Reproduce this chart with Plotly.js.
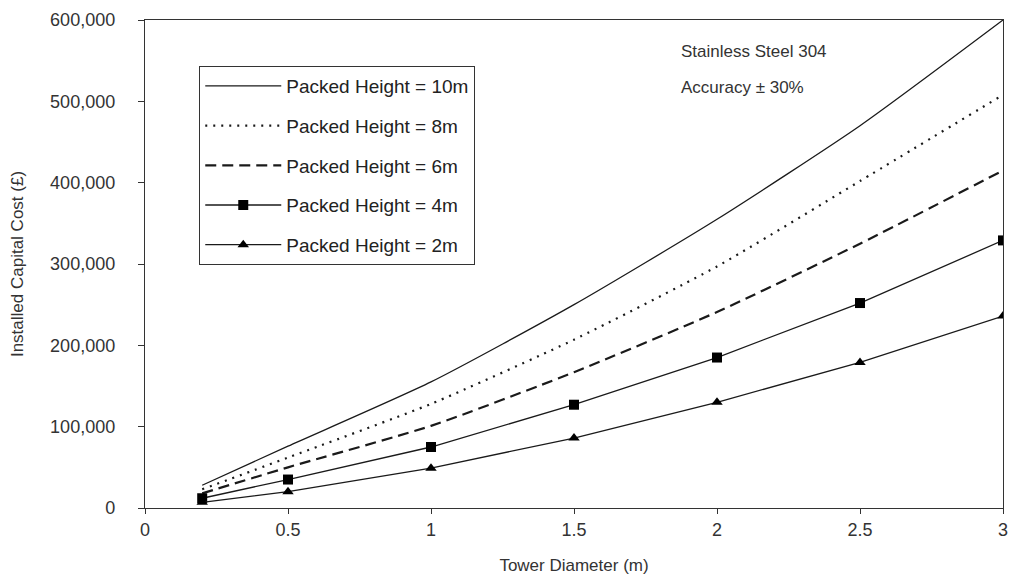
<!DOCTYPE html>
<html>
<head>
<meta charset="utf-8">
<script src="https://cdn.plot.ly/plotly-3.0.1.min.js"></script>
<style>html,body{margin:0;padding:0;background:#fff;}#chart{width:1013px;height:577px;}</style>
</head>
<body>
<div id="chart"></div>
<script>
// Tower diameter (m)
const diameter = [0.2, 0.5, 1, 1.5, 2, 2.5, 3];
// Installed capital cost (£) per packed height
const cost10m = [28000, 76000, 155000, 250000, 355000, 470000, 600000];
const cost8m  = [23000, 62000, 128000, 207000, 297000, 402000, 508000];
const cost6m  = [18000, 50000, 101000, 167000, 241000, 325000, 415000];
const cost4m  = [12000, 35000, 75000, 127000, 185000, 252000, 329000];
const cost2m  = [7000, 20000, 49000, 86000, 130000, 179000, 236000];
const seriesNames = ["Packed Height = 10m", "Packed Height = 8m", "Packed Height = 6m", "Packed Height = 4m", "Packed Height = 2m"];
const xTicks = [0, 0.5, 1, 1.5, 2, 2.5, 3];
const yTicks = [0, 100000, 200000, 300000, 400000, 500000, 600000];

const ink = "#1a1a1a";
const traces = [
  {x: diameter, y: cost10m, name: seriesNames[0], legendgroup: "a", mode: "lines",
   line: {color: ink, width: 1.3, shape: "spline", smoothing: 0.6}},
  {x: diameter, y: cost8m, name: seriesNames[1], legendgroup: "b", mode: "lines",
   line: {color: ink, width: 2.2, dash: "2px,6px", shape: "spline", smoothing: 0.6}},
  {x: diameter, y: cost6m, name: seriesNames[2], legendgroup: "c", mode: "lines",
   line: {color: ink, width: 2.2, dash: "11px,6px", shape: "spline", smoothing: 0.6}},
  {x: diameter, y: cost4m, name: seriesNames[3], legendgroup: "d", mode: "lines+markers",
   line: {color: ink, width: 1.3}, marker: {symbol: "square", size: 10, color: "#000"}},
  {x: diameter, y: cost2m, name: seriesNames[4], legendgroup: "e", mode: "lines+markers",
   line: {color: ink, width: 1.3}, marker: {symbol: "triangle-up", size: 10, color: "#000"}}
];

const fam = "Liberation Sans, Arial, sans-serif";
const layout = {
  width: 1013, height: 577,
  margin: {l: 145, r: 10, t: 20, b: 69},
  paper_bgcolor: "#fff", plot_bgcolor: "#fff",
  font: {family: fam, size: 17, color: "#333"},
  showlegend: true,
  legend: {
    x: 0.063, y: 0.906, xanchor: "left", yanchor: "top",
    bgcolor: "#fff", bordercolor: "#333", borderwidth: 1.2,
    font: {family: fam, size: 19, color: "#222"},
    traceorder: "grouped", tracegroupgap: 12,
    itemwidth: 76
  },
  xaxis: {
    range: [0, 3], tickvals: xTicks, ticktext: xTicks.map(String),
    showgrid: false, zeroline: false,
    showline: true, linecolor: "#333", linewidth: 1.2, mirror: true,
    ticks: "outside", ticklen: 5, tickcolor: "#333",
    tickfont: {family: fam, size: 18, color: "#333"},
    title: {text: "Tower Diameter (m)", standoff: 20, font: {family: fam, size: 17, color: "#333"}}
  },
  yaxis: {
    range: [0, 600000], tickvals: yTicks, tickformat: ",",
    showgrid: false, zeroline: false,
    showline: true, linecolor: "#333", linewidth: 1.2, mirror: true,
    ticks: "outside", ticklen: 6, tickcolor: "#333",
    ticklabelstandoff: 19,
    tickfont: {family: fam, size: 18, color: "#333"},
    title: {text: "Installed Capital Cost (£)", standoff: 22, font: {family: fam, size: 17, color: "#333"}}
  },
  annotations: [
    {xref: "paper", yref: "paper", x: 0.622, y: 0.935, xanchor: "left", yanchor: "middle",
     text: "Stainless Steel 304", showarrow: false, font: {family: fam, size: 17, color: "#333"}},
    {xref: "paper", yref: "paper", x: 0.622, y: 0.862, xanchor: "left", yanchor: "middle",
     text: "Accuracy ± 30%", showarrow: false, font: {family: fam, size: 17, color: "#333"}}
  ]
};

Plotly.newPlot("chart", traces, layout, {displayModeBar: false, staticPlot: true});
</script>
</body>
</html>
